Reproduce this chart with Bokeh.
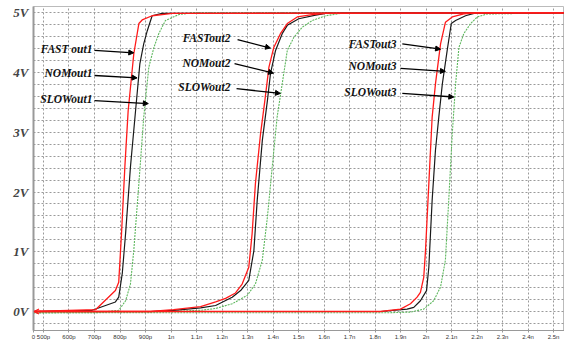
from bokeh.plotting import figure
from bokeh.models import FixedTicker, Arrow, NormalHead, OpenHead, Label
from bokeh.embed import file_html
from bokeh.resources import INLINE

# ---- data (time in ns, voltage in V) ----
fast1_t = [0.46, 0.704, 0.782, 0.795, 0.806, 0.819, 0.832, 0.854, 0.874, 0.887, 0.926, 1.005, 2.54]
fast1_v = [0.0, 0.03, 0.35, 0.49, 1.31, 2.42, 3.36, 4.31, 4.82, 4.88, 4.95, 4.99, 5.0]
nom1_t = [0.46, 0.691, 0.782, 0.795, 0.809, 0.822, 0.841, 0.861, 0.878, 0.893, 0.907, 0.926, 0.965, 2.54]
nom1_v = [0.0, 0.02, 0.16, 0.24, 0.64, 1.31, 2.42, 3.36, 4.15, 4.48, 4.70, 4.95, 4.99, 5.0]
slow1_t = [0.46, 0.704, 0.795, 0.822, 0.841, 0.854, 0.874, 0.893, 0.913, 0.933, 0.952, 0.978, 1.031, 1.083, 2.54]
slow1_v = [-0.02, -0.02, 0.02, 0.18, 0.46, 1.02, 2.14, 3.25, 4.09, 4.42, 4.65, 4.87, 4.97, 5.0, 5.0]

fast2_t = [0.46, 0.92, 1.01, 1.116, 1.175, 1.214, 1.253, 1.279, 1.305, 1.318, 1.331, 1.351, 1.368, 1.384, 1.403, 1.429, 1.456, 1.495, 1.554, 1.606, 2.54]
fast2_v = [0.0, 0.0, 0.03, 0.08, 0.16, 0.22, 0.31, 0.46, 0.74, 1.30, 2.14, 2.97, 3.53, 4.09, 4.42, 4.65, 4.82, 4.93, 4.97, 4.99, 5.0]
nom2_t = [0.46, 0.92, 1.01, 1.116, 1.175, 1.240, 1.273, 1.305, 1.325, 1.338, 1.358, 1.378, 1.390, 1.410, 1.436, 1.456, 1.501, 1.567, 1.606, 2.54]
nom2_v = [0.0, 0.0, 0.02, 0.06, 0.10, 0.24, 0.35, 0.52, 1.02, 1.86, 2.86, 3.53, 3.98, 4.37, 4.65, 4.79, 4.90, 4.96, 4.99, 5.0]
slow2_t = [0.46, 0.92, 1.116, 1.175, 1.240, 1.299, 1.331, 1.358, 1.378, 1.397, 1.416, 1.436, 1.456, 1.482, 1.515, 1.554, 1.606, 1.684, 2.54]
slow2_v = [-0.02, -0.01, 0.02, 0.05, 0.13, 0.27, 0.46, 0.86, 1.58, 2.42, 3.25, 3.81, 4.37, 4.59, 4.76, 4.87, 4.95, 5.0, 5.0]

fast3_t = [0.46, 1.822, 1.900, 1.939, 1.965, 1.978, 1.991, 1.998, 2.011, 2.024, 2.037, 2.057, 2.076, 2.103, 2.148, 2.194, 2.54]
fast3_v = [0.0, 0.0, 0.04, 0.13, 0.24, 0.32, 0.57, 1.02, 2.14, 3.25, 3.81, 4.48, 4.84, 4.93, 4.98, 5.0, 5.0]
nom3_t = [0.46, 1.822, 1.926, 1.952, 1.978, 2.002, 2.011, 2.024, 2.037, 2.050, 2.064, 2.083, 2.099, 2.116, 2.155, 2.188, 2.54]
nom3_v = [0.0, 0.0, 0.04, 0.07, 0.18, 0.35, 0.74, 1.86, 2.70, 3.25, 3.81, 4.37, 4.82, 4.87, 4.95, 4.99, 5.0]
slow3_t = [0.46, 1.861, 1.939, 1.991, 2.030, 2.057, 2.076, 2.089, 2.103, 2.116, 2.129, 2.148, 2.175, 2.201, 2.240, 2.54]
slow3_v = [-0.02, -0.02, -0.01, 0.04, 0.18, 0.41, 0.86, 1.86, 2.98, 3.81, 4.42, 4.65, 4.82, 4.93, 4.98, 5.0]

x_ticks = [0.5, 0.6, 0.7, 0.8, 0.9, 1.0, 1.1, 1.2, 1.3, 1.4, 1.5, 1.6, 1.7, 1.8, 1.9, 2.0, 2.1, 2.2, 2.3, 2.4, 2.5]
x_tick_labels = ["500p", "600p", "700p", "800p", "900p", "1n", "1.1n", "1.2n", "1.3n", "1.4n", "1.5n",
                 "1.6n", "1.7n", "1.8n", "1.9n", "2n", "2.1n", "2.2n", "2.3n", "2.4n", "2.5n"]
y_ticks = [0, 1, 2, 3, 4, 5]
y_tick_labels = ["0V", "1V", "2V", "3V", "4V", "5V"]

# annotations: label, text anchor (t, V), arrow tail, arrow head
ann_labels = ["FAST out1", "NOMout1", "SLOWout1",
              "FASTout2", "NOMout2", "SLOWout2",
              "FASTout3", "NOMout3", "SLOWout3"]
ann_text_t = [0.692, 0.692, 0.692, 1.233, 1.233, 1.233, 1.884, 1.884, 1.884]
ann_text_v = [4.386, 4.0, 3.549, 4.58, 4.16, 3.75, 4.48, 4.11, 3.68]
ann_tail_t = [0.700, 0.700, 0.700, 1.261, 1.249, 1.257, 1.907, 1.900, 1.907]
ann_tail_v = [4.37, 3.95, 3.53, 4.55, 4.15, 3.73, 4.48, 4.07, 3.65]
ann_head_t = [0.854, 0.867, 0.911, 1.390, 1.402, 1.429, 2.057, 2.076, 2.109]
ann_head_v = [4.33, 3.91, 3.48, 4.41, 3.99, 3.65, 4.39, 4.02, 3.59]

X_LO, X_HI = 0.4608, 2.543
Y_LO, Y_HI = -0.318, 5.105

p = figure(width=564, height=342, x_range=(X_LO, X_HI), y_range=(Y_LO, Y_HI),
           output_backend="svg", toolbar_location=None,
           min_border_left=33, min_border_right=0, min_border_top=6, min_border_bottom=12)
p.background_fill_color = "white"
p.border_fill_color = "white"
p.outline_line_color = "#bbbbbb"

# axes
p.xaxis.ticker = FixedTicker(ticks=[X_LO] + x_ticks)
ov = {X_LO: "0"}
for t, l in zip(x_ticks, x_tick_labels):
    ov[t] = l
p.xaxis.major_label_overrides = ov
p.xaxis.major_label_text_font = "Liberation Sans"
p.xaxis.major_label_text_font_size = "6px"
p.xaxis.major_label_text_color = "#333333"
p.xaxis.major_label_standoff = 1
p.xaxis.major_tick_out = 2
p.xaxis.major_tick_in = 0
p.xaxis.minor_tick_out = 0
p.xaxis.minor_tick_in = 0
p.xaxis.axis_line_color = "#999999"
p.xaxis.major_tick_line_color = "#999999"

p.yaxis.ticker = FixedTicker(ticks=y_ticks)
p.yaxis.major_label_overrides = {t: l for t, l in zip(y_ticks, y_tick_labels)}
p.yaxis.major_label_text_font = "Liberation Serif"
p.yaxis.major_label_text_font_style = "bold italic"
p.yaxis.major_label_text_font_size = "13px"
p.yaxis.major_label_standoff = 5
p.yaxis.major_tick_out = 0
p.yaxis.major_tick_in = 0
p.yaxis.minor_tick_out = 0
p.yaxis.minor_tick_in = 0
p.yaxis.axis_line_color = "#999999"
p.yaxis.axis_line_width = 2

# grid
p.xgrid.ticker = FixedTicker(ticks=x_ticks)
p.ygrid.ticker = FixedTicker(ticks=[round(-0.2 + 0.2 * i, 1) for i in range(27)])
for g in (p.xgrid, p.ygrid):
    g.grid_line_color = "#9a9a9a"
    g.grid_line_dash = "2 2"
    g.grid_line_width = 1

green = "#5fb85f"
for t, v in [(slow1_t, slow1_v), (slow2_t, slow2_v), (slow3_t, slow3_v)]:
    p.line(t, v, line_color=green, line_width=1.1, line_dash="2 1")
for t, v in [(nom1_t, nom1_v), (nom2_t, nom2_v), (nom3_t, nom3_v)]:
    p.line(t, v, line_color="#1a1a1a", line_width=1.2)
for t, v in [(fast1_t, fast1_v), (fast2_t, fast2_v), (fast3_t, fast3_v)]:
    p.line(t, v, line_color="#ff1a1a", line_width=1.3)

# red arrow marker at left end of 0 V
p.add_layout(Arrow(x_start=X_LO + 0.03, y_start=0, x_end=X_LO + 0.002, y_end=0,
                   line_color="#ff1a1a", line_width=1.3,
                   end=OpenHead(size=5, line_color="#ff1a1a", line_width=1.3)))

for lab, tt, tv, at, av, ht, hv in zip(ann_labels, ann_text_t, ann_text_v,
                                       ann_tail_t, ann_tail_v, ann_head_t, ann_head_v):
    p.add_layout(Label(x=tt, y=tv, text=lab, text_align="right", text_baseline="middle",
                       text_font="Liberation Serif", text_font_style="bold italic",
                       text_font_size="11.5px", text_color="#111111"))
    p.add_layout(Arrow(x_start=at, y_start=av, x_end=ht, y_end=hv,
                       line_color="black", line_width=1.3,
                       end=NormalHead(size=5, fill_color="black", line_color="black", line_width=1)))

open("out.html", "w").write(file_html(p, INLINE))
